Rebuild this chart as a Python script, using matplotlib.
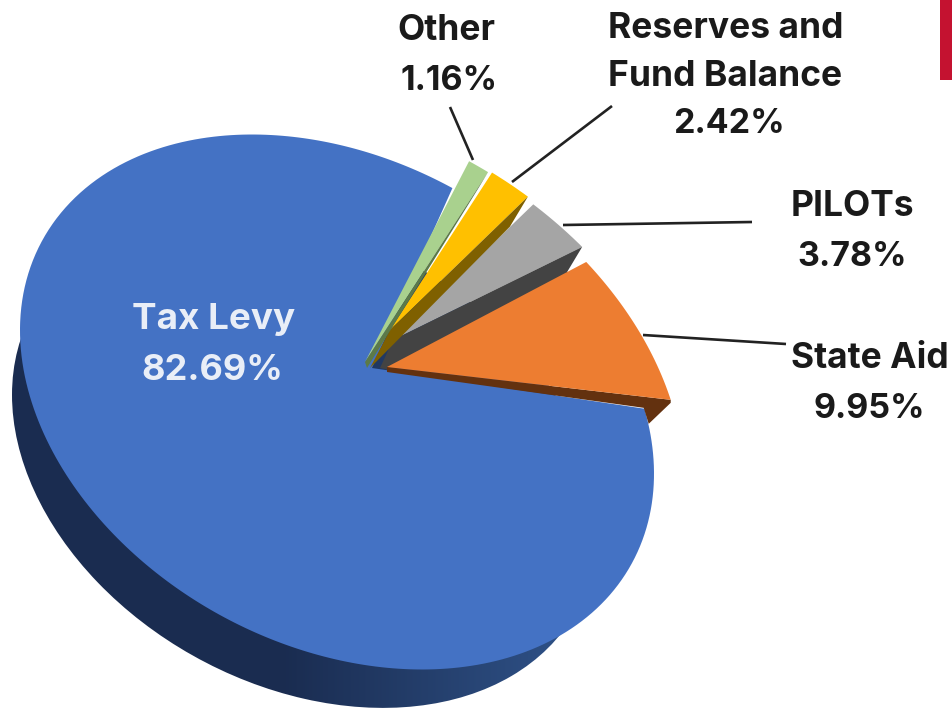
import numpy as np
import matplotlib
matplotlib.use("Agg")
import matplotlib.pyplot as plt
from matplotlib.colors import LinearSegmentedColormap
from matplotlib.patches import PathPatch, Polygon, Rectangle
from matplotlib.path import Path
from matplotlib.transforms import Affine2D, Transform

# ---- data -------------------------------------------------------------
CATEGORIES = ["State Aid", "PILOTs", "Reserves and\nFund Balance", "Other", "Tax Levy"]
VALUES = [9.95, 3.78, 2.42, 1.16, 82.69]

# ---- style ------------------------------------------------------------
COLORS = ["#ED7D31", "#A5A5A5", "#FFC000", "#A9D18E", "#4472C4"]
WALL_COLORS = ["#63310F", "#434343", "#7F6000", "#5C7A48"]
FONT = ["Inter", "DejaVu Sans"]
W, H = 953, 710

# ---- perspective of the tilted pie (pixel space) ------------------------
ELL_C = np.array([337.0, 402.0])
ELL_A = np.array([[317.0, 0.0], [71.7, 257.7]])
ELL_INV = np.linalg.inv(ELL_A)
APEX = [(387, 367), (393, 340), (390, 330), (365, 362), (372, 368)]
SCALE = [1.095, 1.125, 1.137, 1.13, 1.0]
ORANGE_IN = [0.0, 35.82]
ORANGE_OUT = [-6.6, 27.8]
WARP_IN = [35.82, 49.4, 58.1, 62.3]
WARP_OUT = [26.2, 44.0, 57.0, 62.6]
BLUE_IN = [62.3, 360.0]
BLUE_OUT = [65.9, 351.5]


class PieWarp(Transform):
    input_dims = output_dims = 2
    is_separable = False

    def __init__(self, apex, scale, t_in, t_out):
        super().__init__()
        self.apex, self.scale, self.t_in, self.t_out = np.array(apex, float), scale, t_in, t_out

    def transform_non_affine(self, values):
        v = np.asarray(values, float).reshape(-1, 2)
        r = np.hypot(v[:, 0], v[:, 1])
        deg = np.degrees(np.arctan2(v[:, 1], v[:, 0]))
        t0 = self.t_in[0] - 0.01
        th = t0 + np.mod(deg - t0, 360.0)
        psi = np.radians(np.interp(th, self.t_in, self.t_out))
        d = np.column_stack([np.cos(psi), -np.sin(psi)])
        w = ELL_INV @ (self.apex - ELL_C)
        z = d @ ELL_INV.T
        a = (z * z).sum(1)
        b = 2 * (z @ w)
        c = w @ w - self.scale ** 2
        t = (-b + np.sqrt(b * b - 4 * a * c)) / (2 * a)
        return self.apex + (r * t)[:, None] * d

    def transform_path_non_affine(self, path):
        poly = path.to_polygons(Affine2D().scale(1000), closed_only=True)[0] / 1000
        return Path(self.transform_non_affine(poly))


fig = plt.figure(figsize=(W / 100, H / 100), dpi=100)
ax = fig.add_axes([0, 0, 1, 1])

wedges, _ = ax.pie(VALUES, colors=COLORS, startangle=0, counterclock=True,
                   wedgeprops=dict(linewidth=0))
ax.set_xlim(0, W)
ax.set_ylim(H, 0)
ax.axis("off")

# side of the big slice: a lower, slightly smaller ellipse with a soft gradient
base_tf = Affine2D(np.array([[317.0 * .923, 0, 304.6], [71.7 * .923, 257.7 * .923, 461.0], [0, 0, 1]]))
base = PathPatch(Path.unit_circle(), transform=base_tf + ax.transData, fc="none", ec="none", zorder=1)
ax.add_patch(base)
cmap = LinearSegmentedColormap.from_list("side", ["#1A2C50", "#2F5288"])
im = ax.imshow(np.linspace(0, W, 256)[None, :], extent=(0, W, H, 0), cmap=cmap, vmin=280, vmax=575,
               aspect="auto", interpolation="bilinear", zorder=1)
im.set_clip_path(base)
ax.set_xlim(0, W)
ax.set_ylim(H, 0)

# top faces
warps = []
for i, w in enumerate(wedges):
    if i == 4:
        warp = PieWarp(APEX[i], SCALE[i], BLUE_IN, BLUE_OUT)
    elif i == 0:
        warp = PieWarp(APEX[i], SCALE[i], ORANGE_IN, ORANGE_OUT)
    else:
        warp = PieWarp(APEX[i], SCALE[i], WARP_IN, WARP_OUT)
    warps.append(warp)
    w.set_transform(warp + ax.transData)

for i, z in zip(range(5), [9, 3, 5, 7, 2]):
    wedges[i].set_zorder(z)


def edge(i):
    """Apex and outer corner of the lower radial edge of slice i, in pixels."""
    th = np.radians(wedges[i].theta1)
    return warps[i].transform_non_affine(np.array([[0.0, 0.0], [np.cos(th), np.sin(th)]]))


# walls: offsets from the apex and the outer corner of each slice's lower edge
a, t = edge(0)
ax.add_patch(Polygon([a, t, t + (0, 3), t + (-22, 24), t + (-27, 8), a + (0, 5)],
                     closed=True, fc=WALL_COLORS[0], ec="none", zorder=8))
a, t = edge(1)
ax.add_patch(Polygon([a, t, t + (-15, 25), t + (-10, 32), a + (-3, 30), a + (-13, 28)],
                     closed=True, fc=WALL_COLORS[1], ec="none", zorder=4))
a, t = edge(2)
ax.add_patch(Polygon([a, t, t + (-18, 30), a + (-20, 38)],
                     closed=True, fc=WALL_COLORS[2], ec="none", zorder=6))
a, t = edge(3)
ax.add_patch(Polygon([a, t, t + (-9, 15), a + (2, 6)],
                     closed=True, fc=WALL_COLORS[3], ec="none", zorder=8))

# leader lines
LEADERS = [((450, 107), (473, 160)), ((612, 106), (512, 182)),
           ((563, 225), (752, 222)), ((643, 335), (786, 344))]
for p, q in LEADERS:
    ax.plot([p[0], q[0]], [p[1], q[1]], color="#222222", lw=1.9, solid_capstyle="butt", zorder=10)

# corner mark
ax.add_patch(Rectangle((940, 0), 13, 80, fc="#C41230", ec="none", zorder=10))

# labels
TXT = dict(family=FONT, weight="bold", fontsize=25.5, ha="center", va="center", zorder=12)
NUM = dict(TXT, fontsize=24.5)
ax.text(214, 319, CATEGORIES[4], color="#E9EEF7", **dict(TXT, fontsize=26.5))
ax.text(212, 370, f"{VALUES[4]:.2f}%", color="#E9EEF7", **dict(TXT, fontsize=26))
ax.text(446, 30, CATEGORIES[3], color="#1a1a1a", **TXT)
ax.text(449, 81, f"{VALUES[3]:.2f}%", color="#1a1a1a", **NUM)
l1, l2 = CATEGORIES[2].split("\n")
ax.text(726, 29, l1, color="#1a1a1a", **TXT)
ax.text(725, 76, l2, color="#1a1a1a", **TXT)
ax.text(729, 124, f"{VALUES[2]:.2f}%", color="#1a1a1a", **NUM)
ax.text(852, 207, CATEGORIES[1], color="#1a1a1a", **TXT)
ax.text(852, 257, f"{VALUES[1]:.2f}%", color="#1a1a1a", **NUM)
ax.text(870, 358, CATEGORIES[0], color="#1a1a1a", **TXT)
ax.text(869, 409, f"{VALUES[0]:.2f}%", color="#1a1a1a", **NUM)

fig.savefig("out.png", dpi=100)
